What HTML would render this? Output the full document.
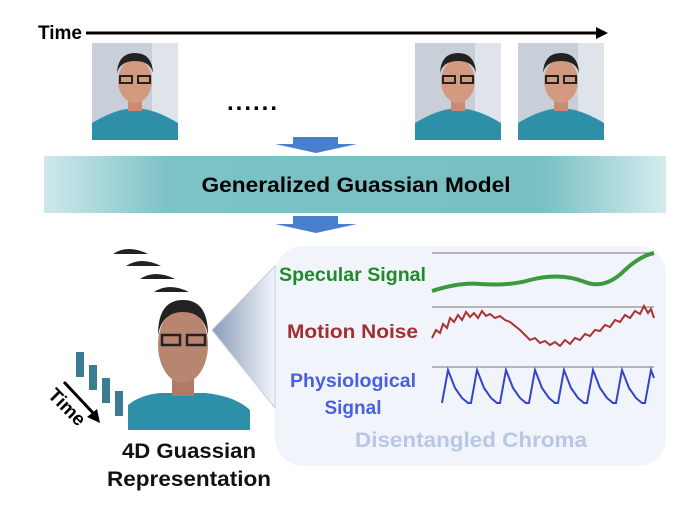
<!DOCTYPE html>
<html><head><meta charset="utf-8"><style>
html,body{margin:0;padding:0;background:#fff;}
svg{display:block;}
text{font-family:"Liberation Sans",sans-serif;font-weight:bold;}
</style></head><body>
<svg width="689" height="514" viewBox="0 0 689 514" xmlns="http://www.w3.org/2000/svg">
<defs>
<linearGradient id="band" x1="0" x2="1" y1="0" y2="0">
<stop offset="0" stop-color="#cfe8ea"/><stop offset="0.2" stop-color="#7cc2c6"/><stop offset="0.8" stop-color="#78c0c4"/><stop offset="1" stop-color="#d5ecee"/>
</linearGradient>
<linearGradient id="cone" x1="0" x2="1"><stop offset="0" stop-color="#8a9bb8"/><stop offset="1" stop-color="#f2f5fb"/></linearGradient>
<g id="photo">
<rect width="86" height="97" fill="#c9cfd8"/>
<rect x="60" y="0" width="26" height="97" fill="#dfe3ea"/>
<path d="M0 97 L0 80 Q20 68 35 66 L51 66 Q66 68 86 80 L86 97Z" fill="#2e8fa8"/>
<rect x="36" y="52" width="14" height="16" fill="#c98c72"/>
<ellipse cx="43" cy="38" rx="17" ry="22" fill="#d39a80"/>
<path d="M25 30 Q26 10 43 10 Q60 10 61 30 Q58 18 43 18 Q28 18 25 30Z" fill="#222"/>
<rect x="28" y="33" width="12" height="7" fill="none" stroke="#222" stroke-width="2"/>
<rect x="46" y="33" width="12" height="7" fill="none" stroke="#222" stroke-width="2"/>
</g>
</defs>
<text x="38" y="39" font-size="19">Time</text>
<line x1="86" y1="33" x2="597" y2="33" stroke="#000" stroke-width="3"/>
<polygon points="596,27 608,33 596,39" fill="#000"/>
<use href="#photo" x="92" y="43"/>
<use href="#photo" x="415" y="43"/>
<use href="#photo" x="518" y="43"/>
<text x="227" y="110" font-size="24" letter-spacing="2">......</text>
<polygon points="293,137 338,137 338,144 357,144 316,153 275,144 293,144" fill="#4a7fcf"/>
<rect x="44" y="156" width="622" height="57" fill="url(#band)"/>
<text x="356" y="192" font-size="21" text-anchor="middle" textLength="309" lengthAdjust="spacingAndGlyphs">Generalized Guassian Model</text>
<polygon points="293,216 338,216 338,224 357,224 316,233 275,224 293,224" fill="#4a7fcf"/>
<rect x="275" y="246" width="391" height="220" rx="28" fill="#f1f4fa"/>
<polygon points="212,330 275,266 275,408" fill="url(#cone)" stroke="#ccd" stroke-width="1"/>
<g fill="#222">
<path d="M113 254 Q128 244 148 254Z"/><path d="M126 266 Q141 256 161 266Z"/><path d="M140 279 Q155 269 175 279Z"/><path d="M154 292 Q169 282 189 292Z"/>
</g>
<g fill="#3a7d92"><rect x="76" y="352" width="8" height="25"/><rect x="89" y="365" width="8" height="25"/><rect x="102" y="378" width="8" height="25"/><rect x="115" y="391" width="8" height="25"/></g>
<path d="M128 430 L128 405 Q140 395 160 393 L205 393 Q235 396 250 410 L250 430Z" fill="#2e8fa8"/>
<rect x="172" y="370" width="22" height="26" fill="#b07a66"/>
<ellipse cx="183" cy="345" rx="25" ry="38" fill="#b88570"/>
<path d="M158 335 Q158 300 183 300 Q208 300 208 335 Q204 312 183 312 Q162 312 158 335Z" fill="#222"/>
<rect x="162" y="335" width="18" height="10" fill="none" stroke="#222" stroke-width="2.5"/><rect x="187" y="335" width="18" height="10" fill="none" stroke="#222" stroke-width="2.5"/>
<text x="0" y="0" font-size="19" transform="translate(47,396) rotate(45)">Time</text>
<line x1="64" y1="382" x2="94" y2="414" stroke="#000" stroke-width="3"/><polygon points="100,423 87,417 97,409" fill="#000"/>
<text x="189" y="458" font-size="21" text-anchor="middle" fill="#111" textLength="134" lengthAdjust="spacingAndGlyphs">4D Guassian</text>
<text x="189" y="486" font-size="21" text-anchor="middle" fill="#111" textLength="164" lengthAdjust="spacingAndGlyphs">Representation</text>
<g stroke="#777" stroke-width="1"><line x1="432" y1="253" x2="654" y2="253"/><line x1="432" y1="307" x2="654" y2="307"/><line x1="432" y1="367" x2="654" y2="367"/></g>
<text x="279" y="281" font-size="19" fill="#1e8a2a" textLength="147" lengthAdjust="spacingAndGlyphs">Specular Signal</text>
<text x="287" y="338" font-size="19" fill="#a03030" textLength="131" lengthAdjust="spacingAndGlyphs">Motion Noise</text>
<text x="353" y="387" font-size="19" fill="#4a5fe0" text-anchor="middle" textLength="126" lengthAdjust="spacingAndGlyphs">Physiological</text>
<text x="353" y="414" font-size="19" fill="#4a5fe0" text-anchor="middle">Signal</text>
<text x="471" y="447" font-size="21" fill="#b8c8e4" text-anchor="middle" textLength="232" lengthAdjust="spacingAndGlyphs">Disentangled Chroma</text>
<path d="M432 291 Q460 282 480 284 Q510 286 530 280 Q560 272 585 282 Q605 290 625 270 Q640 256 654 253" fill="none" stroke="#3a9a3e" stroke-width="4"/>
<path d="M432 338 L436 330 440 333 443 324 447 328 450 318 454 322 458 315 462 320 466 312 470 317 474 313 478 318 482 311 486 316 490 314 495 318 500 316 505 320 510 322 515 326 520 330 525 335 530 340 535 338 540 343 545 341 550 345 555 342 560 346 565 340 570 344 575 338 580 340 585 334 590 336 595 330 600 331 605 325 610 327 615 320 620 322 625 315 630 318 635 311 640 314 644 306 648 313 651 309 654 318" fill="none" stroke="#a33" stroke-width="2"/>
<path d="M442 403 L448 370 L455 388 L462 398 L468 403 L471 403 L477 370 L484 388 L491 398 L497 403 L500 403 L506 370 L513 388 L520 398 L526 403 L529 403 L535 370 L542 388 L549 398 L555 403 L558 403 L564 370 L571 388 L578 398 L584 403 L587 403 L593 370 L600 388 L607 398 L613 403 L616 403 L622 370 L629 388 L636 398 L642 403 L645 403 L651 370 L654 378" fill="none" stroke="#3344cc" stroke-width="2"/>
</svg>
</body></html>
